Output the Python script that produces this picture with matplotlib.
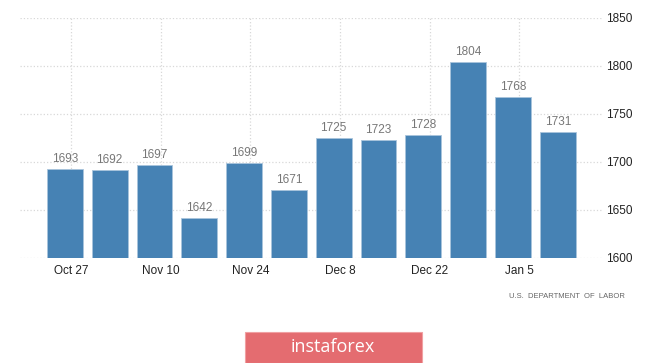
"""
Continuing jobless claims (thousands), weekly bars.
"""
import matplotlib.pyplot as plt
import matplotlib.patches as mpatches
import numpy as np

plt.rcParams.update({
    'font.family': ['Liberation Sans'],
    'font.size': 8,
})

# dados
week_days = [0, 7, 14, 21, 28, 35, 42, 49, 56, 63, 70, 77]  # dias desde Oct 26
claims = [1693, 1692, 1697, 1642, 1699, 1671, 1725, 1723, 1728, 1804, 1768, 1731]
tick_days = [1, 15, 29, 43, 57, 71]
tick_labels = ['Oct 27', 'Nov 10', 'Nov 24', 'Dec 8', 'Dec 22', 'Jan 5']
y_ticks = [1600, 1650, 1700, 1750, 1800, 1850]

narrow = ['Liberation Sans Narrow', 'Liberation Sans']

fig = plt.figure(figsize=(6.65, 3.63), dpi=100)
ax = fig.add_axes([20 / 665, 1 - 258 / 363, 582 / 665, 240 / 363])

bar_color = '#4682b4'
ax.bar(week_days, np.array(claims) - 1600, bottom=1600, width=5.6,
       color=bar_color, edgecolor='#a9c4dc', linewidth=0.6, zorder=3)

for d, v in zip(week_days, claims):
    ax.annotate(f'{v}', xy=(d, v), xytext=(0, 3), textcoords='offset points',
                ha='center', va='bottom', fontsize=8.5, color='#777777',
                family=narrow)

ax.set_xlim(-7.0, 83.9)
ax.set_ylim(1600, 1850)
ax.set_xticks(tick_days)
ax.set_xticklabels(tick_labels)
ax.set_yticks(y_ticks)
ax.yaxis.tick_right()
ax.tick_params(axis='both', length=0, labelsize=8.5, colors='#222222')
ax.tick_params(axis='x', pad=5)
ax.tick_params(axis='y', pad=3)

ax.grid(True, color='#d8d8d8', linestyle=':', linewidth=0.9, zorder=0)
for s in ax.spines.values():
    s.set_visible(False)
ax.set_facecolor('white')

# fonte
fig.text(625 / 665, 1 - 296 / 363, 'U.S.  DEPARTMENT  OF  LABOR', ha='right', va='center',
         fontsize=5.5, color='#666666')

# banner instaforex
banner = mpatches.Rectangle((245 / 665, 0), 177 / 665, 31 / 363,
                            transform=fig.transFigure, facecolor='#e46c70',
                            edgecolor='#f0a0a2', linewidth=0.8)
fig.patches.append(banner)
fig.text(333 / 665, 16 / 363, 'instaforex', ha='center', va='center',
         fontsize=13, color='white', fontfamily='Open Sans')

plt.savefig('out.png', dpi=100)
plt.close()
